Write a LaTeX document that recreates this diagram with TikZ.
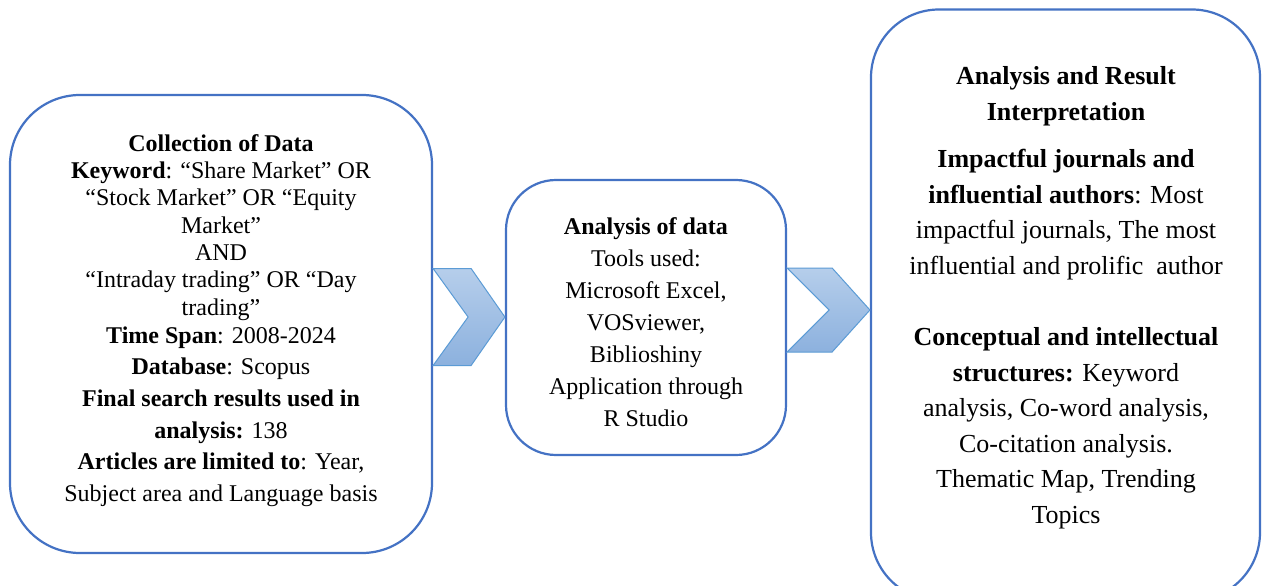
\documentclass[tikz,border=0pt]{standalone}
\usepackage{fontspec}
\setmainfont{Liberation Serif}
\usetikzlibrary{calc}
\definecolor{boxblue}{HTML}{4472C4}
\definecolor{chevtop}{HTML}{B6CEEB}
\definecolor{chevbot}{HTML}{8CB1DE}
\definecolor{chevline}{HTML}{5B9BD5}

% chevron between two boxes: #1 left box, #2 right box,
% #3 centre y (px), #4 half height, #5 shoulder width
\newcommand\chevbetween[5]{%
  \path let \p1=(#1.east), \p2=(#2.west) in
    [chevron]
    (\x1, {-(#3-#4)*1pt}) -- (\x1+#5pt, {-(#3-#4)*1pt}) -- (\x2, {-(#3)*1pt})
    -- (\x1+#5pt, {-(#3+#4)*1pt}) -- (\x1, {-(#3+#4)*1pt})
    -- (\x1+#5pt-3pt, {-(#3)*1pt}) -- cycle;}

\begin{document}
\begin{tikzpicture}[x=1pt,y=-1pt,
  stage/.style={draw=boxblue, line width=2.2pt, fill=white, inner sep=0pt},
  stagetext/.style={align=center, inner sep=0pt, text=black},
  chevron/.style={draw=chevline, line width=1pt, top color=chevtop, bottom color=chevbot, line join=miter}]
\clip (0,0) rectangle (1262,586);
\fill[white] (0,0) rectangle (1262,586);

% the three stages
\node[stage, rounded corners=70pt, minimum width=422pt, minimum height=458pt] (collect) at (221,324) {};
\node[stage, rounded corners=50pt, minimum width=280pt, minimum height=275pt] (analyse) at (646,317.5) {};
\node[stage, rounded corners=68pt, minimum width=389pt, minimum height=591pt] (result) at (1065.5,305) {};

% text of each stage
\node[stagetext, font=\fontsize{24pt}{27.3pt}\selectfont] (collecttxt) at (221,320.5) {%
  \textbf{Collection of Data}\\
  \textbf{Keyword}: “Share Market” OR\\
  “Stock Market” OR “Equity\\
  Market”\\
  AND\\
  “Intraday trading” OR “Day\\
  trading”\\[0.7pt]
  \textbf{Time Span}: 2008-2024\\[4.4pt]
  \textbf{Database}: Scopus\\[4.4pt]
  \textbf{Final search results used in}\\[4.4pt]
  \textbf{analysis:} 138\\[4.4pt]
  \textbf{Articles are limited to}: Year,\\[4.4pt]
  Subject area and Language basis};

\node[stagetext, font=\fontsize{24pt}{32pt}\selectfont] (analysetxt) at (646,322) {%
  \textbf{Analysis of data}\\
  Tools used:\\
  Microsoft Excel,\\
  VOSviewer,\\
  Biblioshiny\\
  Application through\\
  R Studio};

\node[stagetext, font=\fontsize{26pt}{35.5pt}\selectfont] (resulttxt) at (1066,297.5) {%
  \textbf{Analysis and Result}\\
  \textbf{Interpretation}\\[12pt]
  \textbf{Impactful journals and}\\
  \textbf{influential authors}: Most\\
  impactful journals, The most\\
  influential and prolific\ \ author\\[36pt]
  \textbf{Conceptual and intellectual}\\
  \textbf{structures:} Keyword\\
  analysis, Co-word analysis,\\
  Co-citation analysis.\\
  Thematic Map, Trending\\
  Topics};

% chevrons leading from one stage to the next
\chevbetween{collect}{analyse}{317}{48.5}{38}
\chevbetween{analyse}{result}{310}{42}{45}
\end{tikzpicture}
\end{document}
